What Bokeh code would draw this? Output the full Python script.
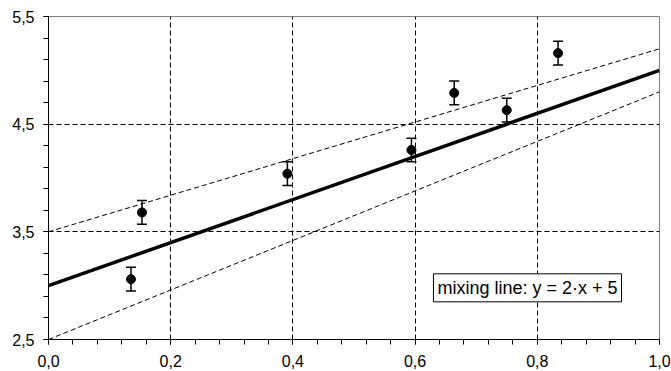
from bokeh.plotting import figure
from bokeh.models import (Range1d, FixedTicker, CustomJSTickFormatter, Whisker,
                          TeeHead, ColumnDataSource, Label)
from bokeh.embed import file_html
from bokeh.resources import INLINE
import numpy as np

# ---- data ----
x_vals = [0.135, 0.153, 0.391, 0.594, 0.664, 0.750, 0.834]
y_vals = [3.06, 3.68, 4.04, 4.26, 4.79, 4.63, 5.16]
y_err = [0.11, 0.11, 0.11, 0.11, 0.11, 0.11, 0.11]

line_x = [0.0, 1.0]
mixing_y = [3.0, 5.0]
upper_y = [3.5, 5.2]
lower_y = [2.5, 4.8]

x_ticks = [0.0, 0.2, 0.4, 0.6, 0.8, 1.0]
y_ticks = [2.5, 3.5, 4.5, 5.5]
x_grid = [0.2, 0.4, 0.6, 0.8]
y_grid = [3.5, 4.5]
annotation = "mixing line: y = 2·x + 5"

FONT = "Liberation Sans"

p = figure(width=671, height=371, output_backend="svg", toolbar_location=None,
           x_range=Range1d(0, 1), y_range=Range1d(2.5, 5.5),
           min_border_left=48, min_border_right=12, min_border_top=16,
           min_border_bottom=32)
p.background_fill_color = "white"
p.border_fill_color = "white"
p.outline_line_color = "#808080"
p.outline_line_width = 1

x_minor = [round(v, 2) for v in np.arange(0, 1.0001, 0.04)]
y_minor = [round(v, 2) for v in np.arange(2.5, 5.5001, 0.2)]
p.xaxis.ticker = FixedTicker(ticks=x_ticks, minor_ticks=x_minor)
p.yaxis.ticker = FixedTicker(ticks=y_ticks, minor_ticks=y_minor)
p.xaxis.formatter = CustomJSTickFormatter(code="return tick.toFixed(1).replace('.', ',');")
p.yaxis.formatter = CustomJSTickFormatter(code="return tick.toFixed(1).replace('.', ',');")

for ax in (p.xaxis, p.yaxis):
    ax.axis_line_color = "black"
    ax.axis_line_width = 1
    ax.major_tick_in = 0
    ax.major_tick_out = 5
    ax.minor_tick_in = 0
    ax.minor_tick_out = 5
    ax.major_tick_line_color = "black"
    ax.minor_tick_line_color = "black"
    ax.major_label_text_font = FONT
    ax.major_label_text_font_size = "16px"
    ax.major_label_text_color = "black"
p.yaxis.major_label_standoff = 9
p.xaxis.major_label_standoff = 10

p.xgrid.ticker = FixedTicker(ticks=x_grid)
p.ygrid.ticker = FixedTicker(ticks=y_grid)
for g in (p.xgrid, p.ygrid):
    g.grid_line_color = "black"
    g.grid_line_dash = "5 3"
    g.grid_line_width = 1

p.line(line_x, upper_y, line_color="black", line_width=1, line_dash="5 3")
p.line(line_x, lower_y, line_color="black", line_width=1, line_dash="5 3")
p.line(line_x, mixing_y, line_color="black", line_width=3.5)

src = ColumnDataSource(dict(
    x=x_vals, y=y_vals,
    upper=[y + e for y, e in zip(y_vals, y_err)],
    lower=[y - e for y, e in zip(y_vals, y_err)],
))
w = Whisker(source=src, base="x", upper="upper", lower="lower",
            line_color="black", line_width=1.5,
            upper_head=TeeHead(size=10, line_color="black", line_width=1.5),
            lower_head=TeeHead(size=10, line_color="black", line_width=1.5))
p.add_layout(w)
p.scatter("x", "y", source=src, size=9, marker="circle",
          fill_color="black", line_color="black")

p.add_layout(Label(x=0.63, y=2.85, text=annotation, text_align="left",
                   text_baseline="bottom", text_font=FONT, text_font_size="18px",
                   text_color="black", border_line_color="black", border_line_width=1,
                   background_fill_color="white", padding=4))

open("out.html", "w").write(file_html(p, INLINE))
